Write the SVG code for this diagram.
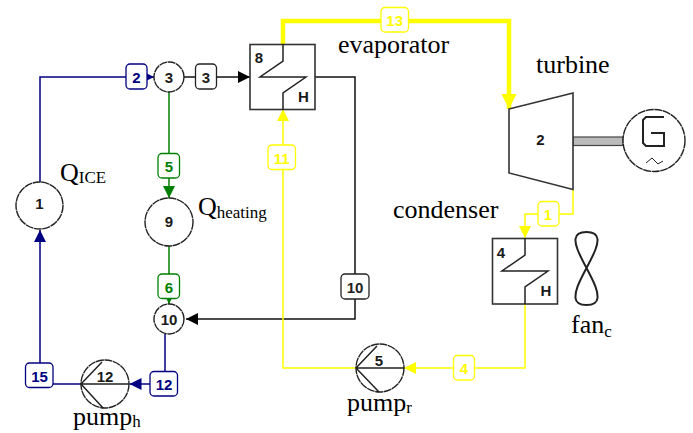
<svg xmlns="http://www.w3.org/2000/svg" width="693" height="433" viewBox="0 0 693 433">
<style>
.w{fill:none;stroke-linejoin:miter}
.b{stroke:#000080;stroke-width:1.5}
.k{stroke:#111;stroke-width:1.5}
.g{stroke:#008000;stroke-width:1.5}
.y{stroke:#ffff00;stroke-width:1.5}
.c{fill:#fff;stroke:#222;stroke-width:1.4;stroke-dasharray:8 .6}
.s{fill:#fff;stroke:#333;stroke-width:1.6}
.z{fill:none;stroke:#222;stroke-width:1.5}
.t{font:bold 15px "Liberation Sans",Arial,sans-serif;text-anchor:middle;fill:#1a1a1a}
.l{fill:#fff;stroke-width:1.3}
.lt{font:bold 15px "Liberation Sans",Arial,sans-serif;text-anchor:middle}
.x{font-family:"Liberation Serif","Times New Roman",serif;font-size:26px;fill:#000}
.u{font-size:17px}
</style>
<defs>
<marker id="ab" markerUnits="userSpaceOnUse" markerWidth="13" markerHeight="12" refX="12" refY="6" orient="auto"><path d="M0,0L12,6L0,12Z" fill="#000080"/></marker>
<marker id="ak" markerUnits="userSpaceOnUse" markerWidth="13" markerHeight="12" refX="12" refY="6" orient="auto"><path d="M0,0L12,6L0,12Z" fill="#000"/></marker>
<marker id="ag" markerUnits="userSpaceOnUse" markerWidth="13" markerHeight="12" refX="12" refY="6" orient="auto"><path d="M0,0L12,6L0,12Z" fill="#008000"/></marker>
<marker id="ay" markerUnits="userSpaceOnUse" markerWidth="13" markerHeight="12" refX="12" refY="6" orient="auto"><path d="M0,0L12,6L0,12Z" fill="#ffff00"/></marker>
<marker id="ayl" markerUnits="userSpaceOnUse" markerWidth="16" markerHeight="16" refX="15" refY="7.5" orient="auto"><path d="M0,0L15,7.5L0,15Z" fill="#ffff00"/></marker>
</defs>
<g id="connectors">
<path class="w b" d="M40,182V77H154" marker-end="url(#ab)"/>
<path class="w k" d="M184,77H250" marker-end="url(#ak)"/>
<path class="w g" d="M169,92V198" marker-end="url(#ag)"/>
<path class="w g" d="M169,246V304" marker-end="url(#ag)"/>
<path class="w k" d="M315,77H355V319H186" marker-end="url(#ak)"/>
<path class="w b" d="M165,334V384H129.500" marker-end="url(#ab)"/>
<path class="w b" d="M81,384H40V230" marker-end="url(#ab)"/>
<path class="w y" d="M356,368H283V109" marker-end="url(#ay)"/>
<path class="w y" style="stroke-width:4.500" d="M283,44V21H509V109" marker-end="url(#ayl)"/>
<path class="w y" d="M573,189V214H525V238" marker-end="url(#ay)"/>
<path class="w y" d="M525,304V368H404" marker-end="url(#ay)"/>
<rect x="573" y="137" width="50" height="8.500" fill="#bbb" stroke="#444" stroke-width="1.200"/>
<g id="connector-labels">
<g><rect class="l" x="126" y="64" width="21" height="25" rx="4" stroke="#000080"/><text class="lt" x="136.500" y="83" fill="#000080">2</text></g>
<g><rect class="l" x="195.500" y="64" width="21" height="25" rx="4" stroke="#222"/><text class="lt" x="206" y="83" fill="#222">3</text></g>
<g><rect class="l" x="158" y="153.500" width="21.500" height="24.500" rx="4" stroke="#008000"/><text class="lt" x="169" y="171.500" fill="#008000">5</text></g>
<g><rect class="l" x="158" y="274" width="21.500" height="24.500" rx="4" stroke="#008000"/><text class="lt" x="169" y="292.500" fill="#008000">6</text></g>
<g><rect class="l" x="268" y="145" width="27.500" height="24.500" rx="4" stroke="#ffff00"/><text class="lt" x="281.700" y="163.500" fill="#ffff00">11</text></g>
<g><rect class="l" x="381" y="7.500" width="27.500" height="24.500" rx="4" stroke="#ffff00"/><text class="lt" x="394.700" y="25.500" fill="#ffff00">13</text></g>
<g><rect class="l" x="341" y="274" width="28" height="25" rx="4" stroke="#222"/><text class="lt" x="355" y="292.500" fill="#222">10</text></g>
<g><rect class="l" x="25.500" y="363" width="27.500" height="24.500" rx="4" stroke="#000080"/><text class="lt" x="39.500" y="381.500" fill="#000080">15</text></g>
<g><rect class="l" x="150" y="371.500" width="27.500" height="24.500" rx="4" stroke="#000080"/><text class="lt" x="164" y="389.500" fill="#000080">12</text></g>
<g><rect class="l" x="538" y="201.500" width="21" height="24.500" rx="4" stroke="#ffff00"/><text class="lt" x="548" y="220" fill="#ffff00">1</text></g>
<g><rect class="l" x="453.500" y="355.500" width="21" height="24.500" rx="4" stroke="#ffff00"/><text class="lt" x="464" y="373.500" fill="#ffff00">4</text></g>
</g>
</g>
<g id="node1"><circle class="c" cx="39.500" cy="205.500" r="23.500"/><text class="t" x="39.500" y="208.500">1</text></g>
<g id="node3"><circle class="c" cx="169" cy="77" r="15"/><text class="t" x="169" y="83">3</text></g>
<g id="node9"><circle class="c" cx="169" cy="222" r="24"/><text class="t" x="169" y="226.500">9</text></g>
<g id="node10"><circle class="c" cx="169" cy="319" r="15"/><text class="t" x="169" y="325">10</text></g>
<g id="node8"><rect class="s" x="250" y="44.500" width="65" height="65"/>
<path class="z" d="M283,44.500V61L260,77H306L283,93V109.500"/>
<text class="t" x="259" y="63">8</text><text class="t" x="303.500" y="102">H</text></g>
<g id="node4"><rect class="s" x="492.500" y="238.500" width="65" height="65.500"/>
<path class="z" d="M525,238.500V255L502,271H548L525,287V304"/>
<text class="t" x="501" y="258">4</text><text class="t" x="546" y="296">H</text></g>
<g id="node2"><path class="s" d="M509,109L573,93V189.500L509,173Z"/><text class="t" x="540.500" y="144.500">2</text></g>
<g id="generator"><circle class="c" cx="654" cy="140.500" r="31"/>
<path class="z" style="stroke-width:2" d="M664,117H646L643,120V143L646,146H664V133H651"/>
<path class="z" style="stroke-width:1" d="M646,163L652,158L658,164L663,161"/></g>
<g id="node12"><circle class="c" cx="105" cy="384" r="24"/>
<path class="z" d="M81,384H129M81,384L102,362M81,384L103,408"/><text class="t" x="105" y="381.500">12</text></g>
<g id="node5"><circle class="c" cx="380" cy="368" r="24"/>
<path class="z" d="M356,368H404M356,368L377,346M356,368L379,392"/><text class="t" x="379" y="365.500">5</text></g>
<g id="fan"><path fill="none" stroke="#222" stroke-width="2" d="M586.500,268C578,252 575,245 575.500,239C576,234 581,232 586.500,232C592,232 597,234 597.500,239C598,245 595,252 586.500,268C578,284 575,291 575.500,298C576,303 581,305 586.500,305C592,305 597,303 597.500,298C598,291 595,284 586.500,268Z"/></g>
<g id="labels">
<text class="x" x="60" y="181">Q<tspan class="u" dy="2">ICE</tspan></text>
<text class="x" x="198" y="215">Q<tspan class="u" dy="3">heating</tspan></text>
<text class="x" x="338" y="53">evaporator</text>
<text class="x" x="536" y="73">turbine</text>
<text class="x" x="393" y="218">condenser</text>
<text class="x" x="571" y="333">fan<tspan class="u" dy="4">c</tspan></text>
<text class="x" x="73" y="425">pump<tspan class="u" dy="2">h</tspan></text>
<text class="x" x="347" y="411">pump<tspan class="u" dy="2">r</tspan></text>
</g>
</svg>
